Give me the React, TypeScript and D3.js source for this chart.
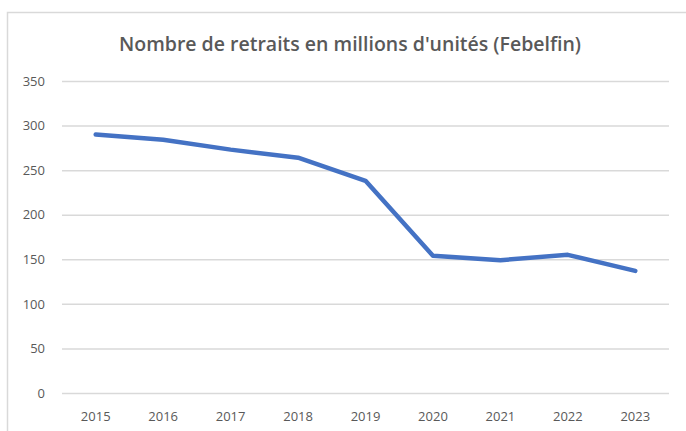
import React, { useRef, useEffect } from "react";
import * as d3 from "d3";

// data
const years = ["2015", "2016", "2017", "2018", "2019", "2020", "2021", "2022", "2023"];
const retraits = [290, 284, 273, 264, 238, 154, 149, 155, 137];
const yTicks = [0, 50, 100, 150, 200, 250, 300, 350];

const W = 686;
const H = 431;
const margin = { left: 62, right: 17, top: 81, bottom: 38 };
const textColor = "#595959";
const font = "'Open Sans', 'Noto Sans', sans-serif";

const App = () => {
  const ref = useRef<SVGSVGElement>(null);

  useEffect(() => {
    const svg = d3.select(ref.current);
    svg.selectAll("*").remove();

    const x = d3.scaleBand().domain(years).range([margin.left, W - margin.right]).padding(0);
    const y = d3.scaleLinear().domain([0, 350]).range([H - margin.bottom, margin.top]);

    // chart frame
    svg.append("rect")
      .attr("x", 7.5).attr("y", 12.5)
      .attr("width", 720).attr("height", 460)
      .attr("fill", "#fff").attr("stroke", "#d9d9d9").attr("stroke-width", 1.5);

    // title
    svg.append("text")
      .attr("x", 350).attr("y", 51)
      .attr("text-anchor", "middle")
      .attr("font-family", font)
      .attr("font-size", 19.5)
      .attr("font-weight", 600)
      .attr("fill", textColor)
      .text("Nombre de retraits en millions d'unités (Febelfin)");

    // y axis with gridlines
    const yAxis = svg.append("g")
      .attr("transform", `translate(${margin.left},0)`)
      .call(d3.axisLeft(y).tickValues(yTicks).tickSize(-(W - margin.left - margin.right)).tickPadding(17));
    yAxis.select(".domain").remove();
    yAxis.selectAll(".tick line").attr("stroke", "#d9d9d9").attr("stroke-width", 1.5);
    yAxis.selectAll(".tick text")
      .attr("fill", textColor).attr("font-family", font).attr("font-size", 13);

    // x axis labels
    const xAxis = svg.append("g")
      .attr("transform", `translate(0,${H - margin.bottom})`)
      .call(d3.axisBottom(x).tickSize(0).tickPadding(19));
    xAxis.select(".domain").remove();
    xAxis.selectAll(".tick text")
      .attr("fill", textColor).attr("font-family", font).attr("font-size", 13);

    // line
    const line = d3.line<number>()
      .x((_, i) => (x(years[i]) as number) + x.bandwidth() / 2)
      .y(d => y(d));
    svg.append("path")
      .datum(retraits)
      .attr("d", line)
      .attr("fill", "none")
      .attr("stroke", "#4472c4")
      .attr("stroke-width", 4.5)
      .attr("stroke-linecap", "round")
      .attr("stroke-linejoin", "round");
  }, []);

  return (
    <div>
      <svg ref={ref} width={W} height={H} style={{ position: "absolute", left: 0, top: 0 }}></svg>
    </div>
  );
};

export default App;
